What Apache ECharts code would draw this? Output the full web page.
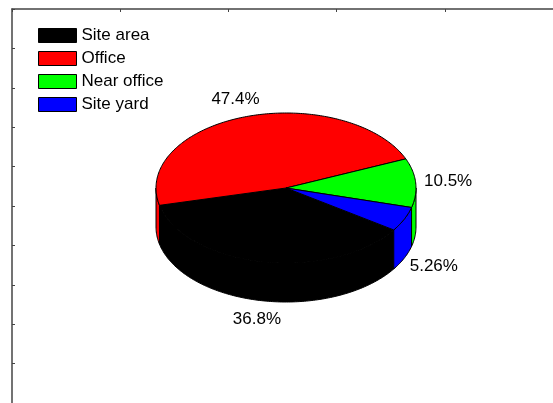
<!DOCTYPE html>
<html>
<head>
<meta charset="utf-8">
<script src="https://cdn.jsdelivr.net/npm/echarts@6/dist/echarts.min.js"></script>
<style>
  html, body { margin: 0; padding: 0; background: #ffffff; }
  #chart { width: 553px; height: 403px; }
</style>
</head>
<body>
<div id="chart"></div>
<script>
// Where the counts came from
const categories = ['Site area', 'Office', 'Near office', 'Site yard'];
const counts = [7, 9, 2, 1];
const sliceColors = ['#000000', '#ff0000', '#00ff00', '#0000ff'];

// Pie geometry (degrees, counter-clockwise from +x; slices run clockwise)
const START_ANGLE = 326;
const DEPTH = 0.52;          // thickness of the disc, in y-axis units
const LABEL_RADIUS = 1.25;   // label distance, relative to the rim
const FONT = '17px "Liberation Sans", Arial, sans-serif';

const total = counts.reduce((a, b) => a + b, 0);

function arcPoints(api, a0, a1, drop) {
  const n = Math.max(2, Math.ceil(Math.abs(a1 - a0)));
  const pts = [];
  for (let j = 0; j <= n; j++) {
    const a = (a0 + (a1 - a0) * j / n) * Math.PI / 180;
    pts.push(api.coord([Math.cos(a), Math.sin(a) - drop]));
  }
  return pts;
}

function sliceRenderer(index) {
  return function (params, api) {
    let before = 0;
    for (let k = 0; k < index; k++) before += counts[k];
    const hi = START_ANGLE - before / total * 360;
    const lo = hi - api.value(0) / total * 360;
    const color = sliceColors[index];
    const edge = { stroke: '#000', lineWidth: 1, fill: color };
    const children = [];

    // visible rim: the front half of the disc
    for (let k = -1; k <= 1; k++) {
      const s = Math.max(lo, 180 + 360 * k);
      const e = Math.min(hi, 360 + 360 * k);
      if (e > s) {
        const pts = arcPoints(api, s, e, 0).concat(arcPoints(api, e, s, DEPTH));
        children.push({ type: 'polygon', shape: { points: pts }, style: edge });
      }
    }

    // top face
    const top = [api.coord([0, 0])].concat(arcPoints(api, hi, lo, 0));
    children.push({ type: 'polygon', shape: { points: top }, style: edge });

    // percentage label
    const mid = (lo + hi) / 2 * Math.PI / 180;
    const sy = Math.sin(mid);
    const p = api.coord([LABEL_RADIUS * Math.cos(mid),
                         LABEL_RADIUS * sy - (sy < 0 ? DEPTH : 0)]);
    const pct = (api.value(0) / total * 100).toPrecision(3) + '%';
    children.push({
      type: 'text', x: p[0], y: p[1],
      style: {
        text: pct, fill: '#000', font: FONT,
        align: 'center', verticalAlign: 'middle',
        textAlign: 'center', textVerticalAlign: 'middle'
      }
    });
    return { type: 'group', children: children };
  };
}

const chart = echarts.init(document.getElementById('chart'), null, { renderer: 'canvas' });

const frameLine = { lineStyle: { color: '#444', width: 1.5 } };

chart.setOption({
  animation: false,
  backgroundColor: '#ffffff',
  grid: [
    { left: 12, top: 9, width: 546.5, height: 400 },   // frame
    { left: 156, top: 113, width: 260, height: 150 }     // pie disc
  ],
  xAxis: [
    { gridIndex: 0, type: 'value', position: 'top', min: 0, max: 5, interval: 1,
      axisLine: frameLine, axisTick: { inside: true, length: 3, lineStyle: { color: '#444' } },
      axisLabel: { show: false }, splitLine: { show: false } },
    { gridIndex: 1, type: 'value', min: -1, max: 1, show: false }
  ],
  yAxis: [
    { gridIndex: 0, type: 'value', inverse: true, min: 0, max: 10, interval: 1,
      axisLine: frameLine, axisTick: { inside: true, length: 3, lineStyle: { color: '#444' } },
      axisLabel: { show: false }, splitLine: { show: false } },
    { gridIndex: 1, type: 'value', min: -1, max: 1, show: false }
  ],
  legend: {
    orient: 'vertical', left: 38, top: 27, padding: 0,
    icon: 'rect', itemWidth: 38, itemHeight: 14, itemGap: 6,
    itemStyle: { borderColor: '#000', borderWidth: 1 },
    textStyle: { fontSize: 17, fontFamily: '"Liberation Sans", Arial, sans-serif',
                 color: '#000', lineHeight: 14 },
    data: categories
  },
  series: categories.map((name, i) => ({
    type: 'custom',
    name: name,
    coordinateSystem: 'cartesian2d',
    xAxisIndex: 1, yAxisIndex: 1,
    clip: false,
    itemStyle: { color: sliceColors[i] },
    data: [{ value: [counts[i]], name: name }],
    renderItem: sliceRenderer(i)
  }))
});
</script>
</body>
</html>
